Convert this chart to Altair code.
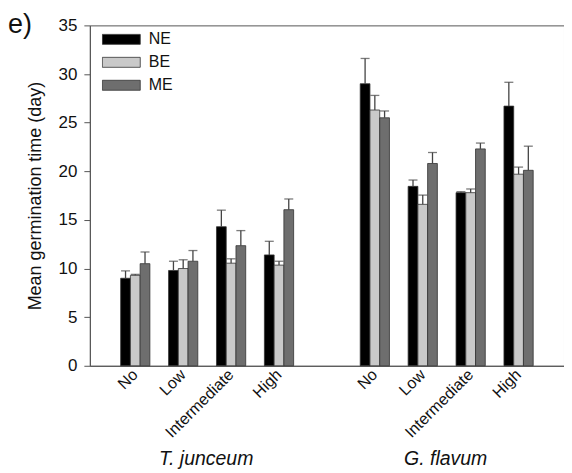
import altair as alt
import pandas as pd

levels = ["No", "Low", "Intermediate", "High"]
species = ["T. junceum", "G. flavum"]
species_keys = ["T", "G"]
series = ["NE", "BE", "ME"]
colors = ["#000000", "#c9c9c9", "#6e6e6e"]

# means and standard errors
tj_mean = {"NE": [9.0, 9.8, 14.3, 11.4], "BE": [9.3, 10.0, 10.55, 10.35], "ME": [10.5, 10.75, 12.35, 16.05]}
tj_err = {"NE": [0.75, 0.95, 1.7, 1.4], "BE": [0.1, 0.9, 0.45, 0.4], "ME": [1.2, 1.1, 1.55, 1.1]}
gf_mean = {"NE": [29.0, 18.45, 17.8, 26.7], "BE": [26.3, 16.6, 17.8, 19.7], "ME": [25.5, 20.8, 22.3, 20.1]}
gf_err = {"NE": [2.6, 0.65, 0.1, 2.45], "BE": [1.5, 0.95, 0.38, 0.73], "ME": [0.7, 1.13, 0.6, 2.48]}

keys = [f"T|{l}" for l in levels] + ["gap"] + [f"G|{l}" for l in levels]

rows = []
for sk, means, errs in [("T", tj_mean, tj_err), ("G", gf_mean, gf_err)]:
    for s in series:
        for i, l in enumerate(levels):
            rows.append({"key": f"{sk}|{l}", "series": s, "mean": means[s][i],
                         "top": means[s][i] + errs[s][i]})
df = pd.DataFrame(rows)

sp_df = pd.DataFrame({"key": [f"{k}|Low" for k in species_keys], "label": species})
tag_df = pd.DataFrame({"label": ["e)"]})

FONT = "Liberation Sans"

xenc = alt.X("key:N",
             scale=alt.Scale(domain=keys, paddingInner=0.39, paddingOuter=0.643),
             axis=alt.Axis(title=None, ticks=False, labelAngle=-45, labelAlign="right",
                           labelBaseline="middle", labelFontSize=16, labelPadding=6,
                           labelColor="#111", domainColor="#555", labelFont=FONT,
                           labelExpr="datum.value == 'gap' ? '' : split(datum.value, '|')[1]"))
xoff = alt.XOffset("series:N", sort=series, scale=alt.Scale(domain=series))
yenc = alt.Y("mean:Q", scale=alt.Scale(domain=[0, 35], nice=False),
             axis=alt.Axis(title="Mean germination time (day)", values=[0, 5, 10, 15, 20, 25, 30, 35],
                           grid=False, tickSize=6, domainColor="#555", tickColor="#555",
                           labelColor="#111", labelFontSize=17, labelFont=FONT, labelPadding=7,
                           titleFont=FONT, titleFontSize=18, titleFontWeight="normal",
                           titleColor="#111", titlePadding=14))

bars = alt.Chart(df).mark_bar(stroke="#333", strokeWidth=0.8).encode(
    x=xenc, xOffset=xoff, y=yenc,
    color=alt.Color("series:N", sort=series, scale=alt.Scale(domain=series, range=colors),
                    legend=alt.Legend(title=None, orient="none", legendX=12, legendY=7,
                                      symbolType="M-1,-0.263L1,-0.263L1,0.263L-1,0.263Z",
                                      symbolSize=1444, symbolStrokeColor="#333",
                                      symbolStrokeWidth=0.8, symbolOpacity=1,
                                      clipHeight=14, rowPadding=7,
                                      labelFontSize=16, labelFont=FONT, labelColor="#111",
                                      labelOffset=8)))

rules = alt.Chart(df).mark_rule(color="#444", strokeWidth=1.3).encode(
    x=xenc, xOffset=xoff, y="mean:Q", y2="top:Q")
caps = alt.Chart(df).mark_tick(color="#444", thickness=1.3, size=9).encode(
    x=xenc, xOffset=xoff, y="top:Q")

sp_text = alt.Chart(sp_df).mark_text(font=FONT, fontSize=19.5, fontStyle="italic",
                                     color="#111", dx=23, baseline="alphabetic").encode(
    x=xenc, y=alt.value(440), text="label:N")
tag = alt.Chart(tag_df).mark_text(font=FONT, fontSize=27, color="#111", align="left",
                                  baseline="alphabetic").encode(
    x=alt.value(-82), y=alt.value(8), text="label:N")

chart = alt.layer(bars, rules, caps, sp_text, tag).properties(
    width=475, height=341,
    autosize=alt.AutoSizeParams(type="none"),
    padding={"left": 82, "top": 17, "right": 0, "bottom": 112},
).configure_view(stroke="#555", strokeWidth=1)

chart.save("out.html", embed_options={"renderer": "svg", "actions": False})
